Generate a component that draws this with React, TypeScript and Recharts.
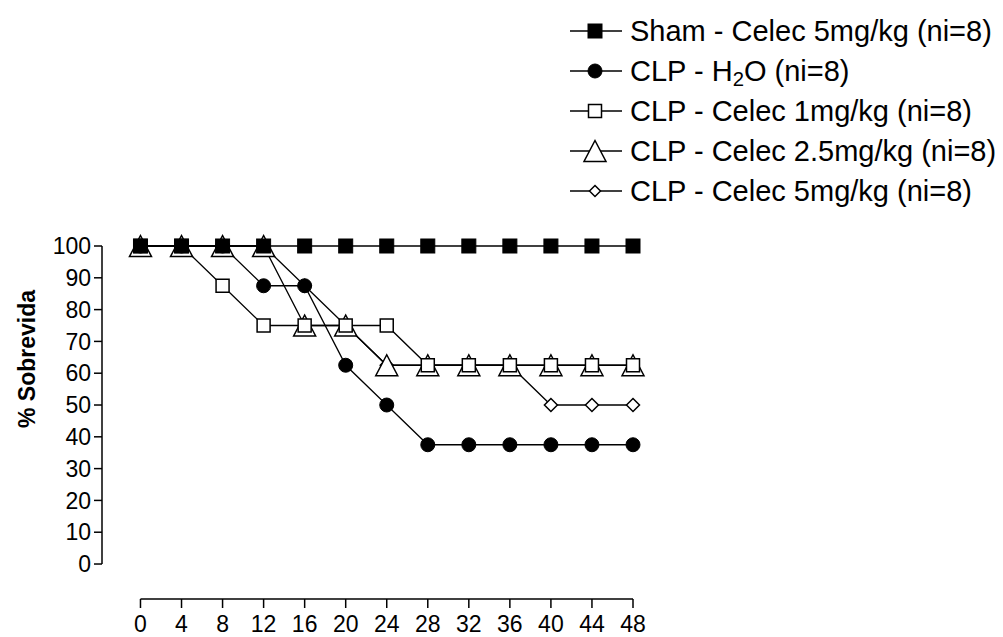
import React from 'react';
import {
  LineChart,
  Line,
  XAxis,
  YAxis,
  ReferenceLine,
  Legend,
} from 'recharts';

// survival (%) every 4 hours after surgery
const hours = [0, 4, 8, 12, 16, 20, 24, 28, 32, 36, 40, 44, 48];
const shamCelec5 = [100, 100, 100, 100, 100, 100, 100, 100, 100, 100, 100, 100, 100];
const clpH2O = [100, 100, 100, 87.5, 87.5, 62.5, 50, 37.5, 37.5, 37.5, 37.5, 37.5, 37.5];
const clpCelec1 = [100, 100, 87.5, 75, 75, 75, 75, 62.5, 62.5, 62.5, 62.5, 62.5, 62.5];
const clpCelec25 = [100, 100, 100, 100, 75, 75, 62.5, 62.5, 62.5, 62.5, 62.5, 62.5, 62.5];
const clpCelec5 = [100, 100, 100, 100, 87.5, 75, 62.5, 62.5, 62.5, 62.5, 50, 50, 50];

const yTicks = [0, 10, 20, 30, 40, 50, 60, 70, 80, 90, 100];
const yLabel = '% Sobrevida';

const legendNames = [
  'Sham - Celec 5mg/kg (ni=8)',
  'CLP - H2O (ni=8)',
  'CLP - Celec 1mg/kg (ni=8)',
  'CLP - Celec 2.5mg/kg (ni=8)',
  'CLP - Celec 5mg/kg (ni=8)',
];

const FONT = '"Liberation Sans", Arial, sans-serif';

type MarkerKind = 'filledSquare' | 'circle' | 'openSquare' | 'triangle' | 'diamond';

const data = hours.map((h, i) => ({
  hour: h,
  sham: shamCelec5[i],
  h2o: clpH2O[i],
  c1: clpCelec1[i],
  c25: clpCelec25[i],
  c5: clpCelec5[i],
}));

const marker = (kind: MarkerKind, cx: number, cy: number, key?: string, small = false) => {
  switch (kind) {
    case 'filledSquare':
      return <rect key={key} x={cx - 7} y={cy - 7} width={14} height={14} fill="#000" stroke="#000" strokeWidth={1} />;
    case 'circle':
      return <circle key={key} cx={cx} cy={cy} r={7} fill="#000" stroke="#000" strokeWidth={1} />;
    case 'openSquare':
      return <rect key={key} x={cx - 6.5} y={cy - 6.5} width={13} height={13} fill="#fff" stroke="#000" strokeWidth={1.5} />;
    case 'triangle':
      return (
        <polygon
          key={key}
          points={`${cx},${cy - 10.5} ${cx - 11},${cy + 10.5} ${cx + 11},${cy + 10.5}`}
          fill="#fff"
          stroke="#000"
          strokeWidth={1.5}
        />
      );
    case 'diamond':
    default: {
      const d = small ? 5.5 : 6.5;
      return (
        <polygon
          key={key}
          points={`${cx},${cy - d} ${cx + d},${cy} ${cx},${cy + d} ${cx - d},${cy}`}
          fill="#fff"
          stroke="#000"
          strokeWidth={1.5}
        />
      );
    }
  }
};

const dotOf = (kind: MarkerKind) => (props: any) =>
  marker(kind, props.cx, props.cy, `${kind}-${props.index}`);

// legend order follows the original figure
const legendKinds: MarkerKind[] = ['filledSquare', 'circle', 'openSquare', 'triangle', 'diamond'];

const renderName = (name: string) => {
  if (!name.includes('H2O')) return name;
  const [before, after] = name.split('H2O');
  return (
    <>
      {before}H<sub style={{ fontSize: '0.7em', verticalAlign: '-0.25em', lineHeight: 0 }}>2</sub>O{after}
    </>
  );
};

const renderLegend = () => (
  <div style={{ fontFamily: FONT, fontSize: 29, color: '#000' }}>
    {legendNames.map((name, i) => (
      <div key={name} style={{ display: 'flex', alignItems: 'center', height: 40, whiteSpace: 'nowrap' }}>
        <svg width={58} height={40} style={{ display: 'block' }}>
          <line x1={0} x2={52} y1={20} y2={20} stroke="#000" strokeWidth={1.5} />
          {marker(legendKinds[i], 25, 20, undefined, true)}
        </svg>
        <span style={{ marginLeft: 2 }}>{renderName(name)}</span>
      </div>
    ))}
  </div>
);

const App = () => {
  const axisTick = { fill: '#000', fontSize: 23, fontFamily: FONT };
  return (
    <div style={{ position: 'absolute', left: 0, top: 0, width: 1003, height: 637, background: '#fff' }}>
      <LineChart width={1003} height={637} data={data} margin={{ top: 246, right: 370, bottom: 0, left: 0 }}>
        <XAxis
          dataKey="hour"
          type="number"
          domain={[-3.75, 48]}
          ticks={hours}
          axisLine={false}
          tickLine={{ stroke: '#000', strokeWidth: 1.5 }}
          tickSize={9}
          tickMargin={8}
          tick={axisTick}
          height={38}
          interval={0}
        />
        <YAxis
          type="number"
          domain={[-11, 100]}
          ticks={yTicks}
          axisLine={false}
          tickLine={{ stroke: '#000', strokeWidth: 1.5 }}
          tickSize={8}
          tickMargin={3}
          tick={axisTick}
          width={102}
          interval={0}
          label={{
            value: yLabel,
            angle: -90,
            position: 'insideLeft',
            offset: 0,
            content: (p: any) => {
              const vb = p.viewBox || {};
              const x = (vb.x || 0) + 35;
              const y = (vb.y || 0) + 113;
              return (
                <text
                  x={x}
                  y={y}
                  transform={`rotate(-90, ${x}, ${y})`}
                  textAnchor="middle"
                  fontFamily={FONT}
                  fontWeight="bold"
                  fontSize={23}
                  fill="#000"
                >
                  {yLabel}
                </text>
              );
            },
          }}
        />
        {/* axis lines: y axis spans 0-100 only, x axis sits below the plot */}
        <ReferenceLine
          segment={[{ x: -3.75, y: 0 }, { x: -3.75, y: 100 }]}
          stroke="#000"
          strokeWidth={1.5}
          ifOverflow="visible"
        />
        <ReferenceLine
          segment={[{ x: 0, y: -11 }, { x: 48, y: -11 }]}
          stroke="#000"
          strokeWidth={1.5}
          ifOverflow="visible"
        />
        <Line dataKey="c5" name={legendNames[4]} stroke="#000" strokeWidth={1.3} dot={dotOf('diamond')} isAnimationActive={false} />
        <Line dataKey="c25" name={legendNames[3]} stroke="#000" strokeWidth={1.3} dot={dotOf('triangle')} isAnimationActive={false} />
        <Line dataKey="c1" name={legendNames[2]} stroke="#000" strokeWidth={1.3} dot={dotOf('openSquare')} isAnimationActive={false} />
        <Line dataKey="h2o" name={legendNames[1]} stroke="#000" strokeWidth={1.3} dot={dotOf('circle')} isAnimationActive={false} />
        <Line dataKey="sham" name={legendNames[0]} stroke="#000" strokeWidth={1.3} dot={dotOf('filledSquare')} isAnimationActive={false} />
        <Legend
          layout="vertical"
          align="center"
          verticalAlign="middle"
          content={renderLegend}
          wrapperStyle={{ top: 11, left: 570, width: 'auto' }}
        />
      </LineChart>
    </div>
  );
};

export default App;
